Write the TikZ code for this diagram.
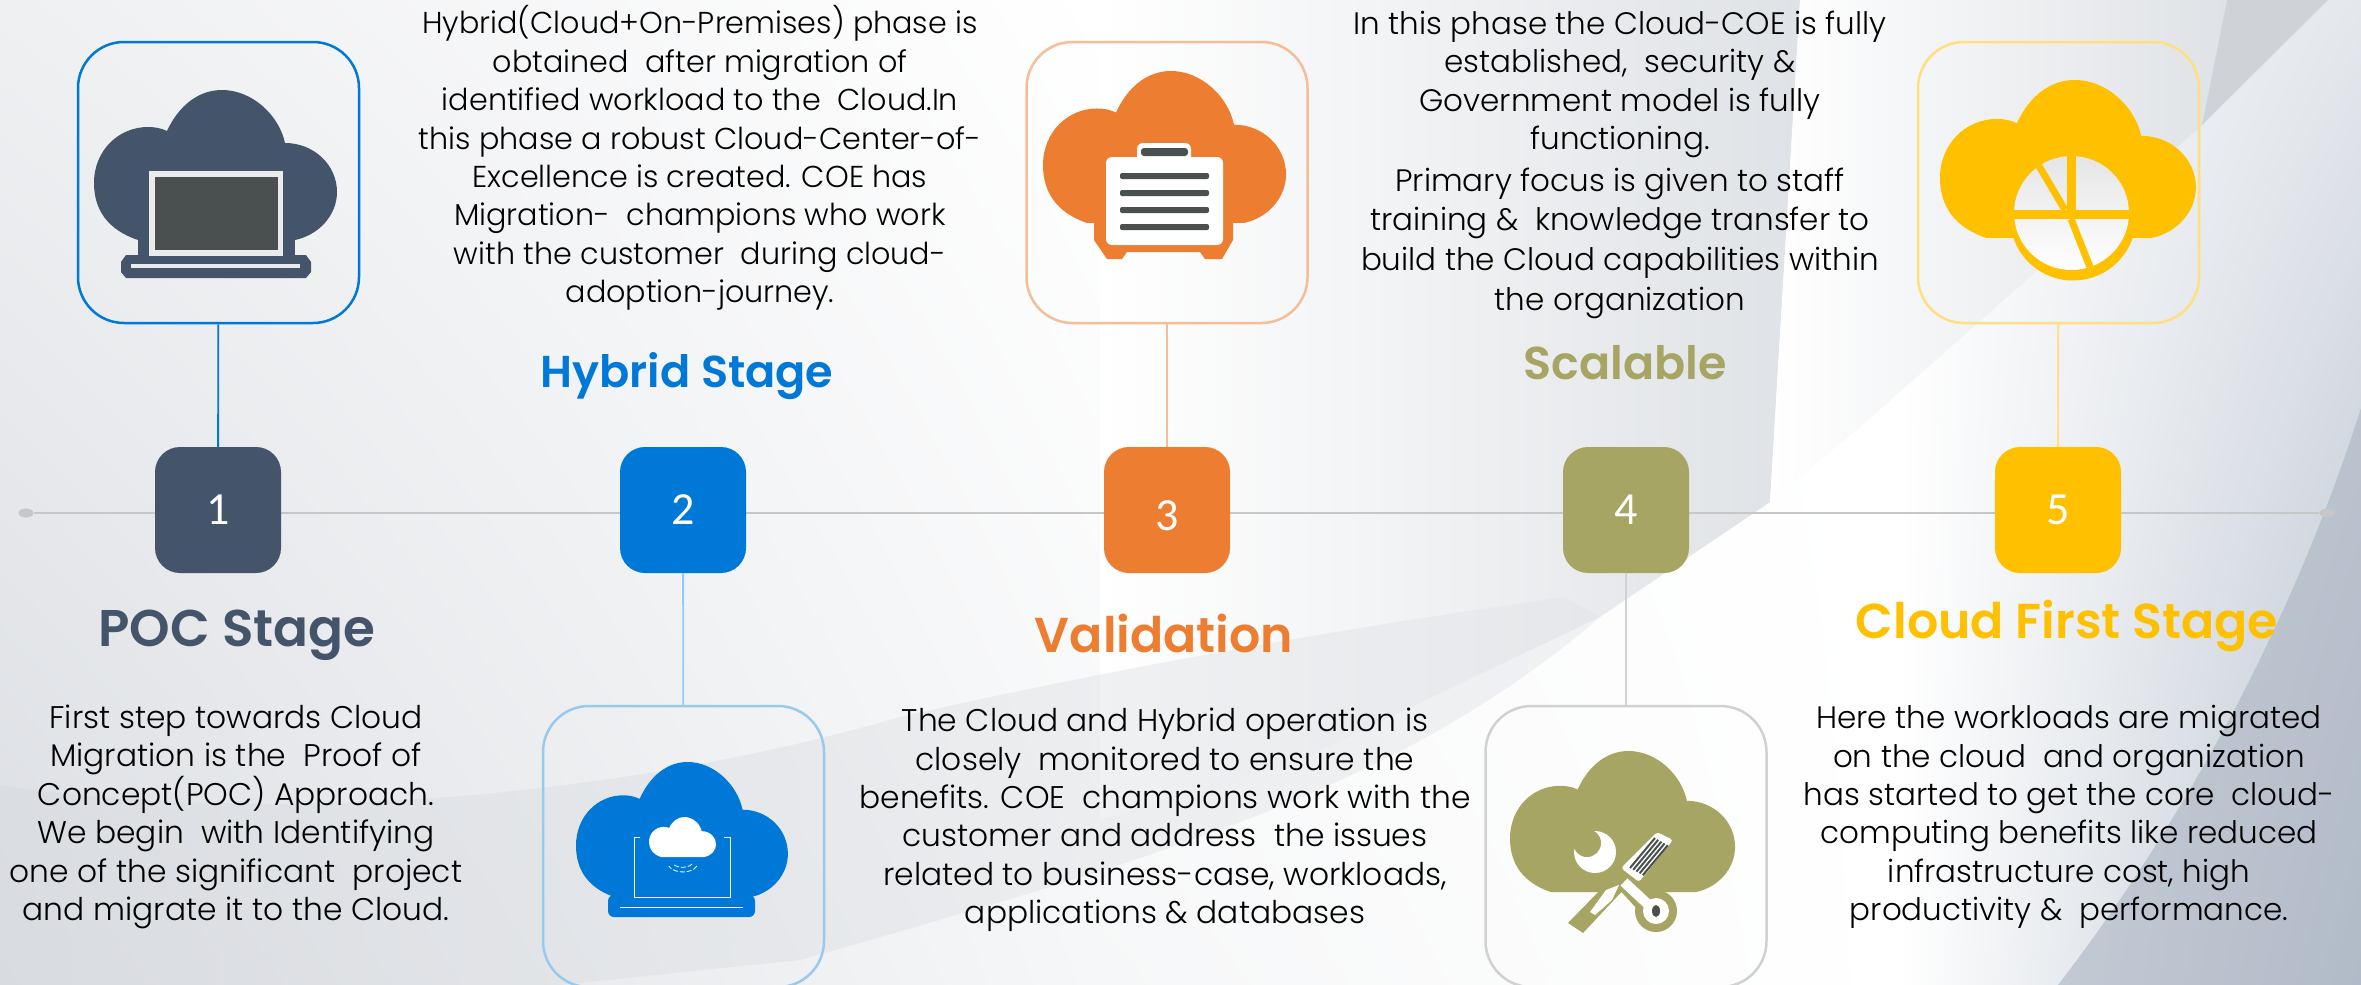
\documentclass[tikz,border=0pt]{standalone}
\usepackage{fontspec}
\setmainfont{Poppins}[UprightFont=* Light,BoldFont=* SemiBold]
\newfontfamily\numfont{Carlito}
\usetikzlibrary{shapes.geometric,shadings}
\definecolor{slateblue}{HTML}{44546A}
\definecolor{azure}{HTML}{0078D7}
\definecolor{pumpkin}{HTML}{ED7D31}
\definecolor{olive}{HTML}{A7A564}
\definecolor{amber}{HTML}{FFC000}
\definecolor{screengrey}{HTML}{4A4F50}
\definecolor{bgleft}{HTML}{EFF0F2}
\definecolor{bglow}{HTML}{DBDEE3}
\definecolor{bgpale}{HTML}{F6F7F8}
\definecolor{bgswoop}{HTML}{D6D9DE}
\definecolor{bgband}{HTML}{E2E4E8}
\definecolor{bgtop}{HTML}{DFE2E6}
\definecolor{bgwedge}{HTML}{CFD3D7}
\definecolor{bgright}{HTML}{E4E7EC}
\definecolor{bgcorner}{HTML}{BCC5D1}
\definecolor{bgdark}{HTML}{AAB4C2}
\tikzset{
  cardbox/.style={draw,line width=2.5pt,rounded corners=46pt,minimum width=281pt,minimum height=281pt,inner sep=0pt},
  stepbox/.style={rounded corners=25pt,minimum width=126pt,minimum height=126pt,inner sep=0pt,text=white,font=\numfont\fontsize{46}{46}\selectfont},
  linedot/.style={ellipse,fill=black!22,minimum width=15pt,minimum height=9pt,inner sep=0pt},
  heading/.style={font=\fontsize{#1}{50}\selectfont\bfseries},
  bodytext/.style={align=center,font=\fontsize{#1}{38.4}\selectfont,text=black,inner sep=0pt},
  cloudshape/.pic={\fill[pic actions] (44,150) .. controls (14,140) and (0,120) .. (0,93) .. controls (0,60) and (25,37) .. (54,37) .. controls (60,37) and (67,38) .. (73,41) .. controls (85,15) and (105,0) .. (128,0) .. controls (158,0) and (185,25) .. (191,53) .. controls (220,53) and (243,75) .. (243,102) .. controls (243,125) and (225,145) .. (201,150) -- cycle;}
}
\begin{document}
\begin{tikzpicture}[x=1pt,y=-1pt]
\useasboundingbox (0,0) rectangle (2361,985);

% background
\shade[upper left=bgleft,upper right=white,lower left=bglow,lower right=bgpale] (0,0) rectangle (1100,985);
\shade[upper left=white,upper right=white,lower left=bgpale,lower right=white] (1100,0) rectangle (1900,985);
\shade[upper left=white,upper right=bgright,lower left=white,lower right=bgcorner] (1900,0) rectangle (2361,985);
\shade[left color=white,right color=bgtop] (1100,0) -- (1800,0) -- (1770,502) -- (1600,617) -- (1300,760) -- (1100,820) -- cycle;
\shade[left color=bgswoop,right color=bgband,opacity=.45] (0,785) .. controls (300,830) and (650,790) .. (900,717) .. controls (1150,660) and (1400,620) .. (1565,597) -- (1600,617) .. controls (1400,790) and (1150,860) .. (800,960) -- (560,985) -- (0,985) -- cycle;
\shade[left color=white,right color=bgtop] (1800,0) -- (2227,0) -- (2202,125) -- (1860,427) -- (1770,502) -- cycle;
\fill[bgwedge] (2227,0) -- (2328,0) -- (2202,125) -- cycle;
\fill[bgdark,opacity=.6] (2361,408) .. controls (2300,600) and (2200,800) .. (2058,985) -- (2361,985) -- cycle;

% time line
\node[linedot] (dotL) at (26,513) {};
\node[linedot] (dotR) at (2327,513) {};
\draw[black!22,line width=2.5pt] (dotL) -- (dotR);

% the cards
\foreach \n/\x/\y/\c in {1/218.5/182.5/azure,2/683.5/846.5/azure!40,3/1167/182.5/pumpkin!50,4/1626/846.5/black!18,5/2058.5/182.5/amber!50}
  \node[cardbox,draw=\c] (card\n) at (\x,\y) {};

% the steps
\foreach \n/\x/\c/\d in {1/218/slateblue/14,2/683/azure/14,3/1167/pumpkin/20,4/1626/olive/14,5/2058/amber/14}
  \node[stepbox,fill=\c] (step\n) at (\x,510) {\raisebox{-\d pt}[0pt][0pt]{\n}};

% connectors
\draw[azure,line width=1.8pt] (card1) -- (step1);
\draw[azure!40,line width=1.8pt] (step2) -- (card2);
\draw[pumpkin!50,line width=1.8pt] (card3) -- (step3);
\draw[black!18,line width=1.8pt] (step4) -- (card4);
\draw[amber!50,line width=1.8pt] (card5) -- (step5);

% icon 1
\pic[fill=slateblue] at (94,90) {cloudshape};
\fill[slateblue] (126,255) -- (306,255) -- (311,262) -- (311,272) -- (306,278) -- (126,278) -- (121,272) -- (121,262) -- cycle;
\fill[slateblue] (138,235) rectangle (295,256);
\fill[black!8] (149,171) rectangle (283,256);
\fill[screengrey] (155,177) rectangle (278,250);
\fill[black!8] (131,264) rectangle (300,268);

% icon 2
\pic[fill=azure,xscale=.872,yscale=.9] at (576,762) {cloudshape};
\fill[azure,rounded corners=6pt] (608,895) rectangle (755,917);
\draw[white,line width=1pt] (620,907) -- (743,907);
\draw[white,line width=1pt] (640,837) -- (634,837) -- (634,897) -- (730,897) -- (730,837) -- (724,837);
\pic[fill=white,xscale=.276,yscale=.267] at (649,817) {cloudshape};
\draw[white,line width=.8pt,dash pattern=on 5pt off 2pt] (692,864) arc[start angle=20,end angle=160,x radius=10,y radius=5];
\draw[white,line width=.8pt,dash pattern=on 5pt off 2pt] (697,866) arc[start angle=20,end angle=160,x radius=15,y radius=9];

% icon 3
\pic[fill=pumpkin,yscale=1.013] at (1043,71) {cloudshape};
\fill[pumpkin] (1094,215) -- (1233,215) -- (1233,240) -- (1222,259) -- (1205,259) -- (1200,252) -- (1127,252) -- (1122,259) -- (1107,259) -- (1094,240) -- cycle;
\fill[white,rounded corners=6pt] (1106,157) rectangle (1223,245);
\fill[white,rounded corners=6pt] (1137,143) rectangle (1191,165);
\fill[screengrey,rounded corners=3pt] (1141,148) rectangle (1188,156);
\foreach \y in {176,193,210,227}
  \fill[screengrey,rounded corners=2pt] (1120,\y-3) rectangle (1209,\y+3);

% icon 4
\pic[fill=olive,xscale=.926,yscale=.94] at (1510,751) {cloudshape};
\fill[olive] (1583,933) -- (1568,923) -- (1605,885) -- (1628,885) -- cycle;
\draw[olive,line width=24pt] (1625,878) -- (1656,912);
\fill[olive] (1656,911) circle[radius=21];
\fill[white] (1619,885) -- (1606,890) -- (1590,912) -- (1595,915) -- (1612,900) -- cycle;
\draw[white,line width=10pt] (1624,882) -- (1654,910);
\fill[white] (1656,911) circle[radius=13];
\fill[screengrey] (1656,911) ellipse[x radius=4,y radius=6];
\fill[white,rounded corners=3pt] (1657,832) -- (1673,840) -- (1639,882) -- (1621,868) -- cycle;
\foreach \i in {0,1,2,3,4}
  \draw[screengrey,line width=2pt] (1655+\i*3.2,838+\i*1.8) -- (1630+\i*3.2,868+\i*1.8);
\fill[white] (1595,852) circle[radius=21];
\fill[olive] (1587,843) circle[radius=14];

% icon 5
\pic[fill=amber,xscale=1.053,yscale=1.053] at (1940,80) {cloudshape};
\fill[amber] (2073,217.5) ellipse[x radius=63,y radius=63];
\shade[top color=black!10,bottom color=white] (2071.5,213) ellipse[x radius=57.5,y radius=57];
\fill[amber] (2067,156) rectangle (2076,210);
\fill[amber] (2008,210) rectangle (2135,219);
\draw[amber,line width=7pt] (2039,166) -- (2065,210);
\draw[amber,line width=7pt] (2071,219) -- (2090,267);

% headings
\node[heading=51.6,text=slateblue] (title1) at (237,635) {POC Stage};
\node[heading=44.6,text=azure] (title2) at (687,376) {Hybrid Stage};
\node[heading=49,text=pumpkin] (title3) at (1164,634) {Validation};
\node[heading=46,text=olive] (title4) at (1625,363) {Scalable};
\node[heading=49,text=amber] (title5) at (2067,626) {Cloud First Stage};

% texts
\node[bodytext=31.3] (text1) at (236,817) {First step towards Cloud\\Migration is the~ Proof of\\Concept(POC) Approach.\\We begin~ with Identifying\\one of the significant~ project\\and migrate it to the Cloud.};
\node[bodytext=30.2] (text2) at (700,158) {Hybrid(Cloud+On-Premises) phase is\\obtained~ after migration of\\identified workload to the~ Cloud.In\\this phase a robust Cloud-Center-of-\\Excellence is created. COE has\\Migration-~ champions who work\\with the customer~ during cloud-\\adoption-journey.};
\node[bodytext=31.3] (text3) at (1165,820) {The Cloud and Hybrid operation is\\closely~ monitored to ensure the\\benefits. COE~ champions work with the\\customer and address~ the issues\\related to business-case, workloads,\\applications \& databases};
\node[bodytext=31] (text4) at (1620,165) {In this phase the Cloud-COE is fully\\established,~ security \&\\Government model is fully\\functioning.\\[3pt]Primary focus is given to staff\\[1.5pt]training \&~ knowledge transfer to\\[1.5pt]build the Cloud capabilities within\\[1.5pt]the organization};
\node[bodytext=31] (text5) at (2069,817) {Here the workloads are migrated\\on the cloud~ and organization\\has started to get the core~ cloud-\\computing benefits like reduced\\infrastructure cost, high\\productivity \&~ performance.};

\end{tikzpicture}
\end{document}
